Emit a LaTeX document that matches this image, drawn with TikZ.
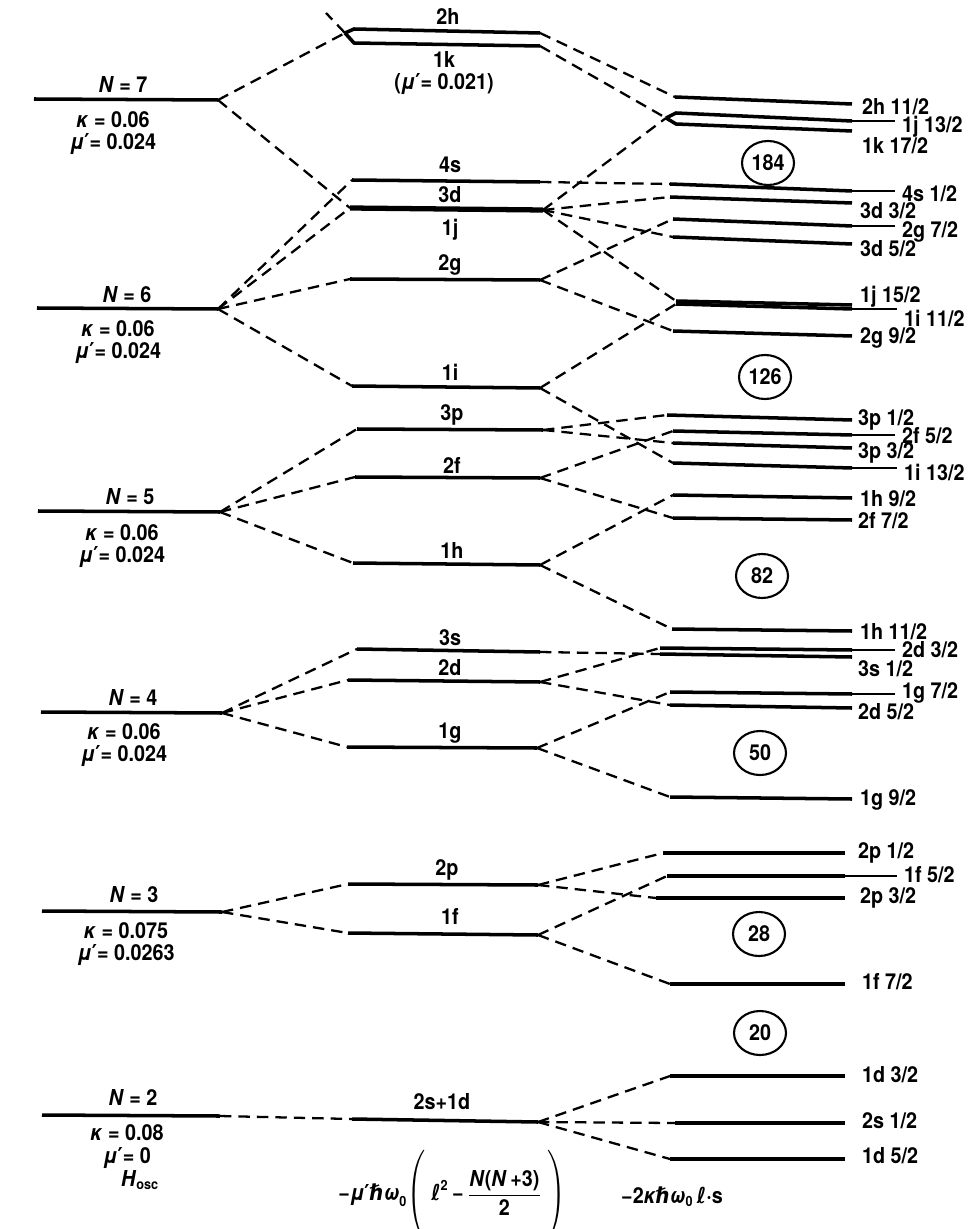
\documentclass[tikz,border=0pt]{standalone}
\usepackage{graphicx}
\usepackage{fontspec}
\setmainfont{TeX Gyre Heros}[FakeStretch=0.9]
\newfontfamily\symf{DejaVu Sans}[FakeStretch=0.9]
\usetikzlibrary{shapes.geometric}

\begin{document}
\begin{tikzpicture}[x=0.02cm, y=-0.02cm, every node/.style={font=\fontsize{12.5}{13}\selectfont\bfseries},
  lvl/.style={line width=2pt},
  conn/.style={line width=1.3pt,dash pattern=on 6.5pt off 4pt},
  lead/.style={line width=0.7pt},
  lab/.style={anchor=west,inner sep=1pt},
  magic/.style={draw,ellipse,line width=1.2pt,minimum width=1.04cm,minimum height=0.88cm,inner sep=0pt}]
\useasboundingbox (0,0) rectangle (968,1229);
% oscillator shells N
\coordinate (N7a) at (34,99); \coordinate (N7b) at (218,100);
\coordinate (N6a) at (37,308); \coordinate (N6b) at (218,309);
\coordinate (N5a) at (38,511); \coordinate (N5b) at (220,512);
\coordinate (N4a) at (41,712); \coordinate (N4b) at (222,713);
\coordinate (N3a) at (42,911); \coordinate (N3b) at (222,912);
\coordinate (N2a) at (42,1115); \coordinate (N2b) at (220,1116);
% l^2 term
\coordinate (N8) at (326,13); \coordinate (J1) at (345,33);
\coordinate (m2ha) at (354,29); \coordinate (m2hb) at (540,33);
\coordinate (m1ka) at (354,43); \coordinate (m1kb) at (540,46);
\coordinate (m4sa) at (352,180); \coordinate (m4sb) at (540,182);
\coordinate (m3da) at (350,208); \coordinate (m3db) at (543,210);
\coordinate (m2ga) at (350,279); \coordinate (m2gb) at (540,280);
\coordinate (m1ia) at (352,386); \coordinate (m1ib) at (540,388);
\coordinate (m3pa) at (357,429); \coordinate (m3pb) at (543,430);
\coordinate (m2fa) at (355,477); \coordinate (m2fb) at (540,478);
\coordinate (m1ha) at (353,563); \coordinate (m1hb) at (540,565);
\coordinate (m3sa) at (357,649); \coordinate (m3sb) at (540,652);
\coordinate (m2da) at (348,680); \coordinate (m2db) at (540,682);
\coordinate (m1ga) at (347,747); \coordinate (m1gb) at (537,748);
\coordinate (m2pa) at (348,884); \coordinate (m2pb) at (538,885);
\coordinate (m1fa) at (348,933); \coordinate (m1fb) at (538,935);
\coordinate (m2sa) at (352,1119); \coordinate (m2sb) at (538,1122);
% spin-orbit term
\coordinate (r2h11a) at (675,97); \coordinate (r2h11b) at (852,104);
\coordinate (J2) at (666,118);
\coordinate (r1j13a) at (676,113); \coordinate (r1j13b) at (852,121);
\coordinate (r1k17a) at (676,124); \coordinate (r1k17b) at (852,131);
\coordinate (r4s1a) at (670,184); \coordinate (r4s1b) at (852,191);
\coordinate (r3d3a) at (670,197); \coordinate (r3d3b) at (852,203);
\coordinate (r2g7a) at (673,219); \coordinate (r2g7b) at (852,226);
\coordinate (r3d5a) at (673,237); \coordinate (r3d5b) at (852,244);
\coordinate (r1j15a) at (676,301); \coordinate (r1j15b) at (852,305);
\coordinate (r1i11a) at (676,304); \coordinate (r1i11b) at (852,309);
\coordinate (r2g9a) at (673,331); \coordinate (r2g9b) at (852,336);
\coordinate (r3p1a) at (667,415); \coordinate (r3p1b) at (852,420);
\coordinate (r2f5a) at (673,431); \coordinate (r2f5b) at (852,435);
\coordinate (r3p3a) at (673,443); \coordinate (r3p3b) at (852,448);
\coordinate (r1i13a) at (673,463); \coordinate (r1i13b) at (852,468);
\coordinate (r1h9a) at (673,495); \coordinate (r1h9b) at (852,498);
\coordinate (r2f7a) at (673,518); \coordinate (r2f7b) at (852,520);
\coordinate (r1h11a) at (672,629); \coordinate (r1h11b) at (852,631);
\coordinate (r2d3a) at (660,648); \coordinate (r2d3b) at (852,650);
\coordinate (r3s1a) at (660,654); \coordinate (r3s1b) at (852,657);
\coordinate (r1g7a) at (670,692); \coordinate (r1g7b) at (852,694);
\coordinate (r2d5a) at (670,705); \coordinate (r2d5b) at (852,708);
\coordinate (r1g9a) at (670,797); \coordinate (r1g9b) at (852,799);
\coordinate (r2p1a) at (663,853); \coordinate (r2p1b) at (845,853);
\coordinate (r1f5a) at (667,876); \coordinate (r1f5b) at (845,876);
\coordinate (r2p3a) at (656,898); \coordinate (r2p3b) at (845,898);
\coordinate (r1f7a) at (670,984); \coordinate (r1f7b) at (845,984);
\coordinate (r1d3a) at (670,1076); \coordinate (r1d3b) at (845,1076);
\coordinate (r2s1a) at (675,1123); \coordinate (r2s1b) at (845,1123);
\coordinate (r1d5a) at (670,1159); \coordinate (r1d5b) at (845,1159);
% dashed correlation lines
\draw[conn] (J1)--(N8); \draw[conn] (N7b)--(J1); \draw[conn] (N7b)--(m3da);
\draw[conn] (N6b)--(m4sa); \draw[conn] (N6b)--(m3da); \draw[conn] (N6b)--(m2ga); \draw[conn] (N6b)--(m1ia);
\draw[conn] (N5b)--(m3pa); \draw[conn] (N5b)--(m2fa); \draw[conn] (N5b)--(m1ha);
\draw[conn] (N4b)--(m3sa); \draw[conn] (N4b)--(m2da); \draw[conn] (N4b)--(m1ga);
\draw[conn] (N3b)--(m2pa); \draw[conn] (N3b)--(m1fa);
\draw[conn] (N2b)--(m2sa);
\draw[conn] (m2hb)--(r2h11a); \draw[conn] (m1kb)--(J2); \draw[conn] (m3db)--(J2);
\draw[conn] (m4sb)--(r4s1a); \draw[conn] (m3db)--(r3d3a); \draw[conn] (m3db)--(r3d5a); \draw[conn] (m3db)--(r1j15a);
\draw[conn] (m2gb)--(r2g7a); \draw[conn] (m2gb)--(r2g9a); \draw[conn] (m1ib)--(r1i11a); \draw[conn] (m1ib)--(r1i13a);
\draw[conn] (m3pb)--(r3p1a); \draw[conn] (m3pb)--(r3p3a); \draw[conn] (m2fb)--(r2f5a); \draw[conn] (m2fb)--(r2f7a);
\draw[conn] (m1hb)--(r1h9a); \draw[conn] (m1hb)--(r1h11a);
\draw[conn] (m3sb)--(r3s1a); \draw[conn] (m2db)--(r2d3a); \draw[conn] (m2db)--(r2d5a); \draw[conn] (m1gb)--(r1g7a); \draw[conn] (m1gb)--(r1g9a);
\draw[conn] (m2pb)--(r2p1a); \draw[conn] (m2pb)--(r2p3a); \draw[conn] (m1fb)--(r1f5a); \draw[conn] (m1fb)--(r1f7a);
\draw[conn] (m2sb)--(r1d3a); \draw[conn] (m2sb)--(r2s1a); \draw[conn] (m2sb)--(r1d5a);
% levels
\draw[lvl] (N7a)--(N7b); \draw[lvl] (N6a)--(N6b); \draw[lvl] (N5a)--(N5b);
\draw[lvl] (N4a)--(N4b); \draw[lvl] (N3a)--(N3b); \draw[lvl] (N2a)--(N2b);
\draw[lvl] (J1)--(m2ha)--(m2hb); \draw[lvl] (J1)--(m1ka)--(m1kb);
\draw[lvl] (m4sa)--(m4sb); \draw[lvl,line width=3pt] (m3da)--(m3db); \draw[lvl] (m2ga)--(m2gb); \draw[lvl] (m1ia)--(m1ib);
\draw[lvl] (m3pa)--(m3pb); \draw[lvl] (m2fa)--(m2fb); \draw[lvl] (m1ha)--(m1hb);
\draw[lvl] (m3sa)--(m3sb); \draw[lvl] (m2da)--(m2db); \draw[lvl] (m1ga)--(m1gb);
\draw[lvl] (m2pa)--(m2pb); \draw[lvl] (m1fa)--(m1fb); \draw[lvl] (m2sa)--(m2sb);
\draw[lvl] (r2h11a)--(r2h11b); \draw[lvl] (J2)--(r1j13a)--(r1j13b); \draw[lvl] (J2)--(r1k17a)--(r1k17b);
\draw[lvl] (r4s1a)--(r4s1b); \draw[lvl] (r3d3a)--(r3d3b); \draw[lvl] (r2g7a)--(r2g7b); \draw[lvl] (r3d5a)--(r3d5b);
\draw[lvl] (r1j15a)--(r1j15b); \draw[lvl] (r1i11a)--(r1i11b); \draw[lvl] (r2g9a)--(r2g9b);
\draw[lvl] (r3p1a)--(r3p1b); \draw[lvl] (r2f5a)--(r2f5b); \draw[lvl] (r3p3a)--(r3p3b); \draw[lvl] (r1i13a)--(r1i13b);
\draw[lvl] (r1h9a)--(r1h9b); \draw[lvl] (r2f7a)--(r2f7b); \draw[lvl] (r1h11a)--(r1h11b);
\draw[lvl] (r2d3a)--(r2d3b); \draw[lvl] (r3s1a)--(r3s1b); \draw[lvl] (r1g7a)--(r1g7b); \draw[lvl] (r2d5a)--(r2d5b); \draw[lvl] (r1g9a)--(r1g9b);
\draw[lvl] (r2p1a)--(r2p1b); \draw[lvl] (r1f5a)--(r1f5b); \draw[lvl] (r2p3a)--(r2p3b); \draw[lvl] (r1f7a)--(r1f7b);
\draw[lvl] (r1d3a)--(r1d3b); \draw[lvl] (r2s1a)--(r2s1b); \draw[lvl] (r1d5a)--(r1d5b);
% left labels
\node (tN7) at (123,85) {\textit{N} = 7}; \node[align=center] (pN7) at (113,133) {\textit{κ} = 0.06\\\textit{μ}{\symf ′}= 0.024};
\node (tN6) at (127,295) {\textit{N} = 6}; \node[align=center] (pN6) at (118,342) {\textit{κ} = 0.06\\\textit{μ}{\symf ′}= 0.024};
\node (tN5) at (130,497) {\textit{N} = 5}; \node[align=center] (pN5) at (122,546) {\textit{κ} = 0.06\\\textit{μ}{\symf ′}= 0.024};
\node (tN4) at (133,697) {\textit{N} = 4}; \node[align=center] (pN4) at (124,745) {\textit{κ} = 0.06\\\textit{μ}{\symf ′}= 0.024};
\node (tN3) at (134,895) {\textit{N} = 3}; \node[align=center] (pN3) at (126,944) {\textit{κ} = 0.075\\\textit{μ}{\symf ′}= 0.0263};
\node (tN2) at (133,1097) {\textit{N} = 2}; \node[align=center] (pN2) at (127,1157) {\textit{κ} = 0.08\\\textit{μ}{\symf ′}= 0\\\hspace*{1.2em}$\mbox{\textit{H}}_{\mbox{\footnotesize osc}}$};
% middle labels
\node (t2h) at (448,17) {2h}; \node[align=center] (t1k) at (444,73) {1k\\[-1pt](\textit{μ}{\symf ′}= 0.021)};
\node (t4s) at (450,165) {4s}; \node (t3d) at (450,195) {3d}; \node (t1j) at (450,230) {1j};
\node (t2g) at (450,265) {2g}; \node (t1i) at (450,372) {1i};
\node (t3p) at (452,415) {3p}; \node (t2f) at (452,465) {2f}; \node (t1h) at (452,550) {1h};
\node (t3s) at (450,638) {3s}; \node (t2d) at (450,668) {2d}; \node (t1g) at (450,733) {1g};
\node (t2p) at (447,870) {2p}; \node (t1f) at (450,916) {1f}; \node (t2s) at (442,1102) {2s+1d};
% right labels
\node[lab] (t2h11) at (860,107) {2h 11/2}; \node[lab] (t1j13) at (900,127) {1j 13/2}; \node[lab] (t1k17) at (860,146) {1k 17/2};
\node[lab] (t4s1) at (900,194) {4s 1/2}; \node[lab] (t3d3) at (858,211) {3d 3/2}; \node[lab] (t2g7) at (900,232) {2g 7/2}; \node[lab] (t3d5) at (858,249) {3d 5/2};
\node[lab] (t1j15) at (858,297) {1j 15/2}; \node[lab] (t1i11) at (902,318) {1i 11/2}; \node[lab] (t2g9) at (858,338) {2g 9/2};
\node[lab] (t3p1) at (856,420) {3p 1/2}; \node[lab] (t2f5) at (900,436) {2f 5/2}; \node[lab] (t3p3) at (856,453) {3p 3/2}; \node[lab] (t1i13) at (902,472) {1i 13/2};
\node[lab] (t1h9) at (858,499) {1h 9/2}; \node[lab] (t2f7) at (856,521) {2f 7/2};
\node[lab] (t1h11) at (858,632) {1h 11/2}; \node[lab] (t2d3) at (900,650) {2d 3/2}; \node[lab] (t3s1) at (856,669) {3s 1/2};
\node[lab] (t1g7) at (900,693) {1g 7/2}; \node[lab] (t2d5) at (856,712) {2d 5/2}; \node[lab] (t1g9) at (858,800) {1g 9/2};
\node[lab] (t2p1) at (856,853) {2p 1/2}; \node[lab] (t1f5) at (902,875) {1f 5/2}; \node[lab] (t2p3) at (858,898) {2p 3/2}; \node[lab] (t1f7) at (860,982) {1f 7/2};
\node[lab] (t1d3) at (860,1075) {1d 3/2}; \node[lab] (t2s1) at (860,1121) {2s 1/2}; \node[lab] (t1d5) at (860,1156) {1d 5/2};
% leaders
\draw[lead] (r1j13b)--([xshift=-3pt]t1j13.west |- r1j13b); \draw[lead] (r4s1b)--([xshift=-3pt]t4s1.west |- r4s1b); \draw[lead] (r2g7b)--([xshift=-3pt]t2g7.west |- r2g7b);
\draw[lead] (r1i11b)--([xshift=-3pt]t1i11.west |- r1i11b); \draw[lead] (r2f5b)--([xshift=-3pt]t2f5.west |- r2f5b); \draw[lead] (r1i13b)--([xshift=-3pt]t1i13.west |- r1i13b);
\draw[lead] (r2d3b)--([xshift=-3pt]t2d3.west |- r2d3b); \draw[lead] (r1g7b)--([xshift=-3pt]t1g7.west |- r1g7b); \draw[lead] (r1f5b)--([xshift=-3pt]t1f5.west |- r1f5b);
% magic numbers
\node[magic] (c184) at (768,163) {184}; \node[magic] (c126) at (765,377) {126}; \node[magic] (c82) at (762,576) {82};
\node[magic] (c50) at (760,753) {50}; \node[magic] (c28) at (759,934) {28}; \node[magic] (c20) at (760,1033) {20};
% terms
\node (fmu) at (452,1195) {$\displaystyle\mbox{−\textit{μ}{\symf ′}{\symf\itshape ℏ}\textit{ω}}_{\mbox{\footnotesize 0}}\raisebox{-1.8pt}{\scalebox{1.3}[1.7]{$\Bigg($}}\;\mbox{\symf ℓ}^{\mbox{\footnotesize 2}}\mbox{\,−\,}\frac{\mbox{\textit{N}(\textit{N}\,+3)}}{\mbox{2}}\;\raisebox{-1.8pt}{\scalebox{1.3}[1.7]{$\Bigg)$}}$};
\node (fka) at (672,1197) {$\mbox{−2\textit{κ}{\symf\itshape ℏ}\textit{ω}}_{\mbox{\footnotesize 0}}\,\mbox{{\symf ℓ}·s}$};
\end{tikzpicture}
\end{document}
